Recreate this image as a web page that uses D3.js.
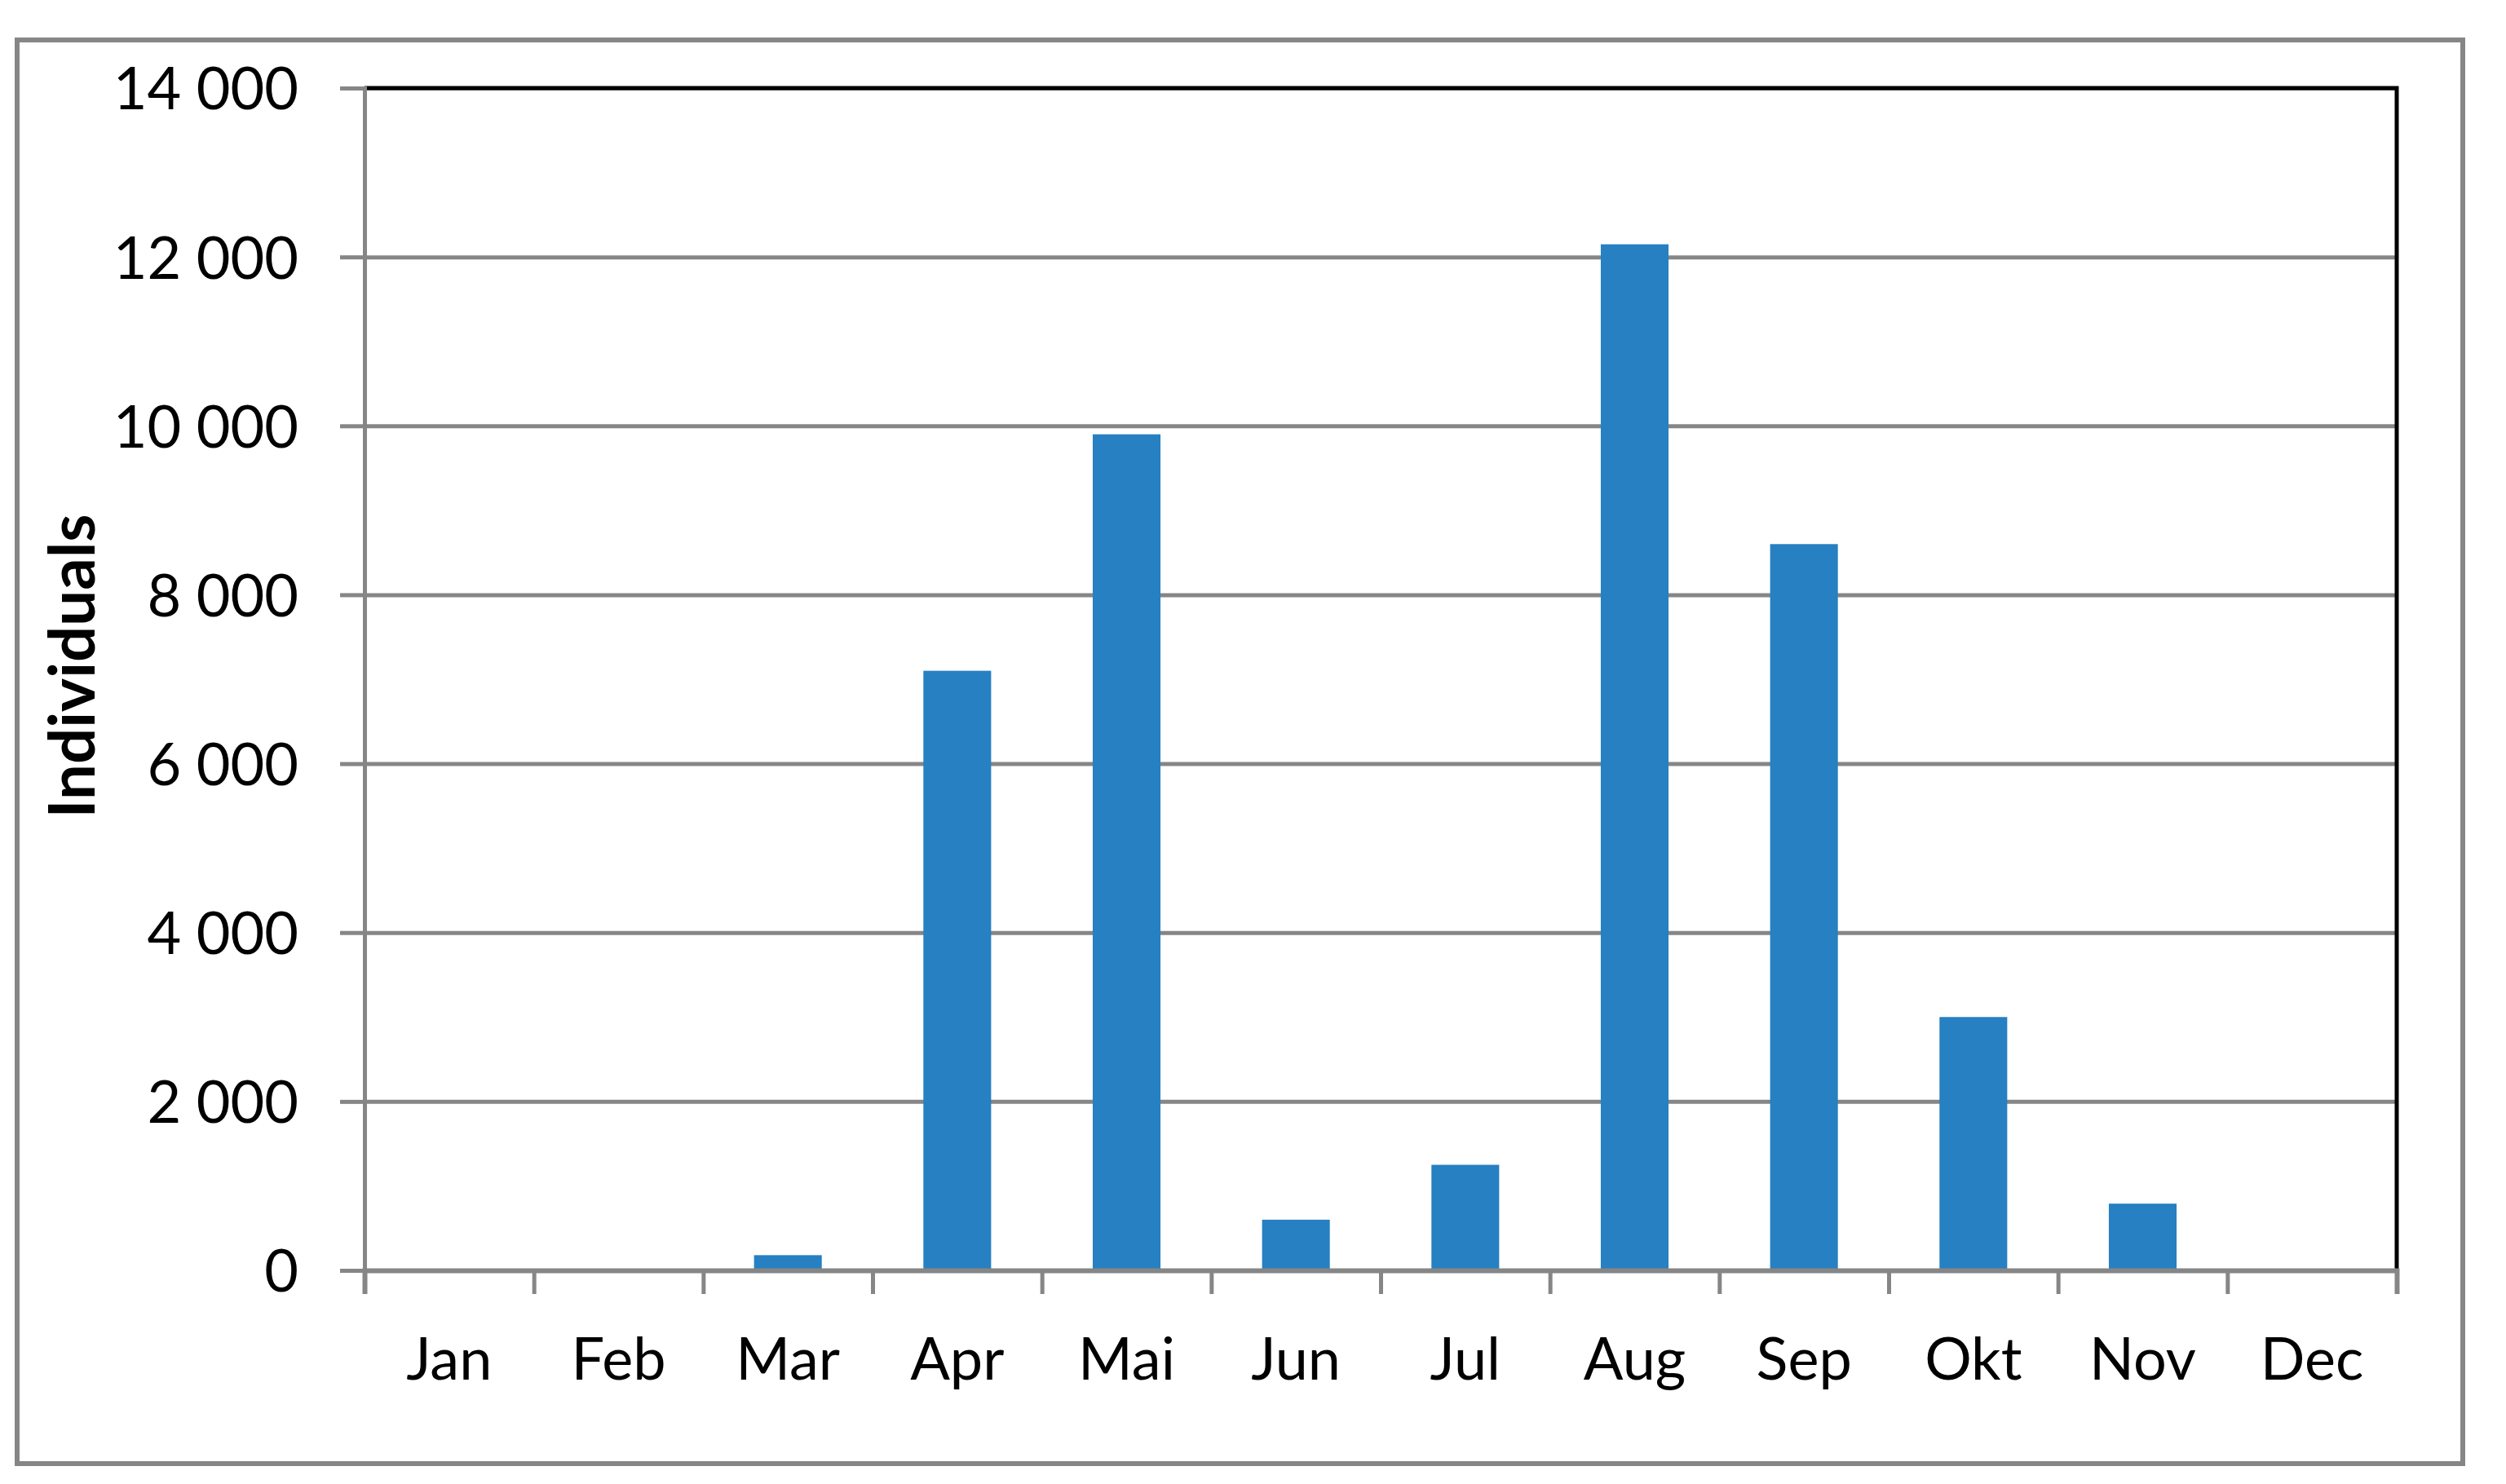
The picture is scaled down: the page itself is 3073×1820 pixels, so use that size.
<!DOCTYPE html>
<html>
<head>
<meta charset="utf-8">
<script src="https://cdn.jsdelivr.net/npm/d3@7"></script>
<style>
  body { margin: 0; background: #fff; }
  .tick text { font-family: Lato, "Open Sans", sans-serif; font-size: 72px; fill: #000; }
  .ylabel { font-family: Lato, "Open Sans", sans-serif; font-size: 78px; font-weight: bold; fill: #000; }
</style>
</head>
<body>
<div id="chart"></div>
<script>
(function () {
  // monthly counts
  const months = ["Jan", "Feb", "Mar", "Apr", "Mai", "Jun", "Jul", "Aug", "Sep", "Okt", "Nov", "Dec"];
  const individuals = [0, 0, 180, 7100, 9900, 600, 1250, 12150, 8600, 3000, 790, 0];
  const yTicks = [0, 2000, 4000, 6000, 8000, 10000, 12000, 14000];
  const yTitle = "Individuals";

  const W = 3073, H = 1820;
  const plot = {left: 447, right: 2939, top: 108, bottom: 1558};
  const gray = "#868686";
  const barColor = "#2680c1";

  const locale = d3.formatLocale({decimal: ",", thousands: "\u00a0", grouping: [3], currency: ["", ""]});
  const fmt = locale.format(",d");

  const svg = d3.select("#chart").append("svg")
    .attr("width", W)
    .attr("height", H);

  // outer chart frame
  svg.append("rect")
    .attr("x", 21).attr("y", 49)
    .attr("width", 3020 - 21).attr("height", 1795 - 49)
    .attr("fill", "#fff")
    .attr("stroke", gray)
    .attr("stroke-width", 6);

  const x = d3.scaleBand()
    .domain(months)
    .range([plot.left, plot.right])
    .paddingInner(0.6)
    .paddingOuter(0.3);

  const xEdge = d3.scaleLinear()
    .domain([0, months.length])
    .range([plot.left, plot.right]);

  const y = d3.scaleLinear()
    .domain([0, d3.max(yTicks)])
    .range([plot.bottom, plot.top]);

  // gridlines
  svg.append("g")
    .attr("transform", "translate(" + plot.left + ",0)")
    .call(d3.axisLeft(y).tickValues(yTicks).tickSize(-(plot.right - plot.left)).tickFormat(""))
    .call(g => g.select(".domain").remove())
    .call(g => g.selectAll("line").attr("stroke", gray).attr("stroke-width", 5));

  // bars
  svg.append("g")
    .selectAll("rect")
    .data(individuals)
    .join("rect")
      .attr("x", (d, i) => x(months[i]))
      .attr("y", d => y(d))
      .attr("width", x.bandwidth())
      .attr("height", d => y(0) - y(d))
      .attr("fill", barColor);

  // plot area border: black top and right
  svg.append("path")
    .attr("d", d3.line()([[plot.left, plot.top], [plot.right, plot.top], [plot.right, plot.bottom]]))
    .attr("fill", "none")
    .attr("stroke", "#000")
    .attr("stroke-width", 5);

  // y axis
  svg.append("g")
    .attr("transform", "translate(" + plot.left + ",0)")
    .call(d3.axisLeft(y).tickValues(yTicks).tickSize(30).tickPadding(51).tickFormat(fmt))
    .call(g => g.select(".domain").attr("stroke", gray).attr("stroke-width", 5))
    .call(g => g.selectAll(".tick line").attr("stroke", gray).attr("stroke-width", 5))
    .call(g => g.selectAll(".tick text").attr("dy", "0.36em"));

  // x axis: edge ticks
  svg.append("g")
    .attr("transform", "translate(0," + plot.bottom + ")")
    .call(d3.axisBottom(xEdge).tickValues(d3.range(months.length + 1)).tickSize(29).tickFormat(""))
    .call(g => g.select(".domain").attr("stroke", gray).attr("stroke-width", 6))
    .call(g => g.selectAll(".tick line").attr("stroke", gray).attr("stroke-width", 5));

  // x axis: category labels
  svg.append("g")
    .attr("transform", "translate(0," + plot.bottom + ")")
    .call(d3.axisBottom(x).tickSize(0).tickPadding(0))
    .call(g => g.select(".domain").remove())
    .call(g => g.selectAll(".tick text").attr("dy", null).attr("y", 134));

  // y title
  svg.append("text")
    .attr("class", "ylabel")
    .attr("transform", "translate(116,817) rotate(-90)")
    .attr("text-anchor", "middle")
    .text(yTitle);
})();
</script>
</body>
</html>
